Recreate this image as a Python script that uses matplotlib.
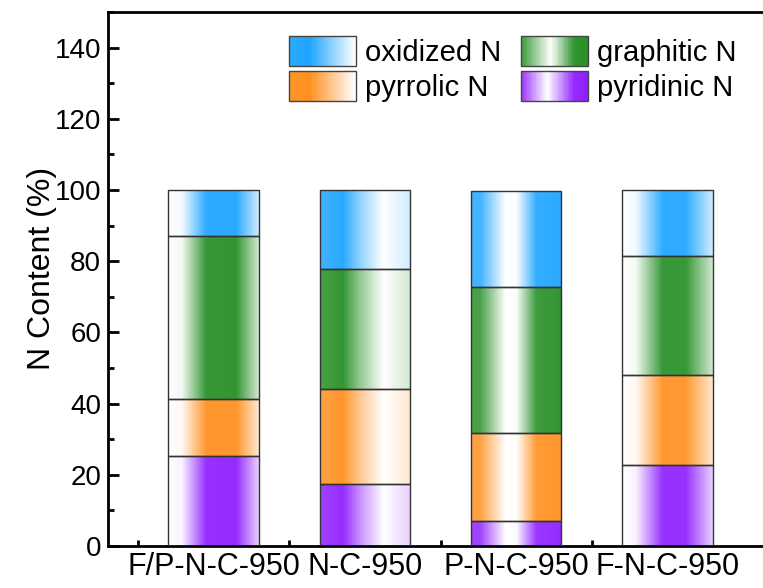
import numpy as np
import matplotlib
matplotlib.use("Agg")
import matplotlib.pyplot as plt
from matplotlib.patches import Rectangle
from matplotlib.legend_handler import HandlerBase
from matplotlib.colors import to_rgb
from matplotlib.ticker import MultipleLocator

plt.rcParams['font.family'] = ['Liberation Sans', 'DejaVu Sans']

# データ
samples = ['F/P-N-C-950', 'N-C-950', 'P-N-C-950', 'F-N-C-950']
pyridinic = [25.4, 17.5, 7.0, 22.8]
pyrrolic = [16.0, 26.7, 24.8, 25.1]
graphitic = [45.6, 33.5, 40.9, 33.5]
oxidized = [13.0, 22.3, 27.0, 18.6]

series = [
    ('pyridinic N', pyridinic, '#8A14FF'),
    ('pyrrolic N', pyrrolic, '#FF8A14'),
    ('graphitic N', graphitic, '#1B8A1B'),
    ('oxidized N', oxidized, '#12A0FF'),
]

# 棒ごとのグラデーション形状 (横方向位置, 濃さ)
bar_profiles = [
    ([0, 0.15, 0.42, 0.75, 1.0], [0.0, 0.05, 0.88, 0.9, 0.2]),
    ([0, 0.25, 0.45, 0.7, 1.0], [0.8, 0.9, 0.45, 0.0, 0.2]),
    ([0, 0.1, 0.38, 0.5, 0.72, 1.0], [0.8, 0.8, 0.0, 0.02, 0.85, 0.9]),
    ([0, 0.15, 0.45, 0.7, 1.0], [0.0, 0.05, 0.88, 0.88, 0.2]),
]


def gradient_rgba(color, profile, n=200):
    u = np.linspace(0, 1, n)
    t = np.interp(u, profile[0], profile[1])
    c = np.array(to_rgb(color))
    rgb = 1 - t[:, None] * (1 - c[None, :])
    return rgb[None, :, :]


class GradKey:
    def __init__(self, color, profile):
        self.color = color
        self.profile = profile


class GradHandler(HandlerBase):
    def create_artists(self, legend, orig_handle, xdescent, ydescent,
                       width, height, fontsize, trans):
        rgb = gradient_rgba(orig_handle.color, orig_handle.profile, 40)[0]
        arts = []
        n = len(rgb)
        for i in range(n):
            r = Rectangle((-xdescent + width * i / n, -ydescent), width / n + 0.3, height,
                          facecolor=rgb[i], edgecolor='none', transform=trans)
            arts.append(r)
        arts.append(Rectangle((-xdescent, -ydescent), width, height, facecolor='none',
                              edgecolor='#444444', linewidth=1.0, transform=trans))
        return arts


fig = plt.figure(figsize=(7.63, 5.88), dpi=100)
ax = fig.add_axes([108 / 763, 42 / 588, 665 / 763, 534 / 588])

x = np.arange(1, len(samples) + 1)
width = 0.6
bottom = np.zeros(len(samples))
for name, vals, color in series:
    bars = ax.bar(x, vals, width, bottom=bottom, facecolor='none',
                  edgecolor='#333333', linewidth=1.0, zorder=3)
    for i, patch in enumerate(bars.patches):
        x0, y0 = patch.get_x(), patch.get_y()
        img = ax.imshow(gradient_rgba(color, bar_profiles[i]),
                        extent=[x0, x0 + patch.get_width(), y0, y0 + patch.get_height()],
                        aspect='auto', interpolation='bilinear', zorder=2)
        img.set_clip_path(patch)
    bottom += np.array(vals)

ax.set_xlim(0.3, 4.7)
ax.set_ylim(0, 150)
ax.set_xticks(x)
ax.set_xticklabels(samples, fontsize=22)
ax.set_xticks(x - 0.5, minor=True)
ax.yaxis.set_minor_locator(MultipleLocator(10))
ax.set_yticks(np.arange(0, 141, 20))
ax.tick_params(axis='y', labelsize=20)
ax.tick_params(which='major', direction='in', length=8, width=2)
ax.tick_params(which='minor', direction='in', length=4, width=2)
ax.tick_params(axis='x', which='major', pad=4)
ax.tick_params(axis='y', which='major', pad=5)
ax.set_ylabel('N Content (%)', fontsize=23, labelpad=-2, y=0.52)
for s in ax.spines.values():
    s.set_linewidth(2)

leg_keys = [
    GradKey('#12A0FF', ([0, 0.3, 1.0], [0.9, 0.95, 0.0])),
    GradKey('#FF8A14', ([0, 0.3, 1.0], [0.9, 0.95, 0.0])),
    GradKey('#1B8A1B', ([0, 0.45, 0.8, 1.0], [0.85, 0.0, 0.9, 0.95])),
    GradKey('#8A14FF', ([0, 0.4, 0.8, 1.0], [0.85, 0.0, 0.9, 0.95])),
]
leg_labels = ['oxidized N', 'pyrrolic N', 'graphitic N', 'pyridinic N']
ax.legend(leg_keys, leg_labels, handler_map={GradKey: GradHandler()},
          ncol=2, frameon=False, fontsize=21, loc='upper left',
          bbox_to_anchor=(289 / 763, 1 - 36 / 588), bbox_transform=fig.transFigure,
          borderpad=0, borderaxespad=0, handlelength=2.3, handleheight=1.2,
          handletextpad=0.32, labelspacing=0.15, columnspacing=0.65)

fig.savefig('out.png', dpi=100)
